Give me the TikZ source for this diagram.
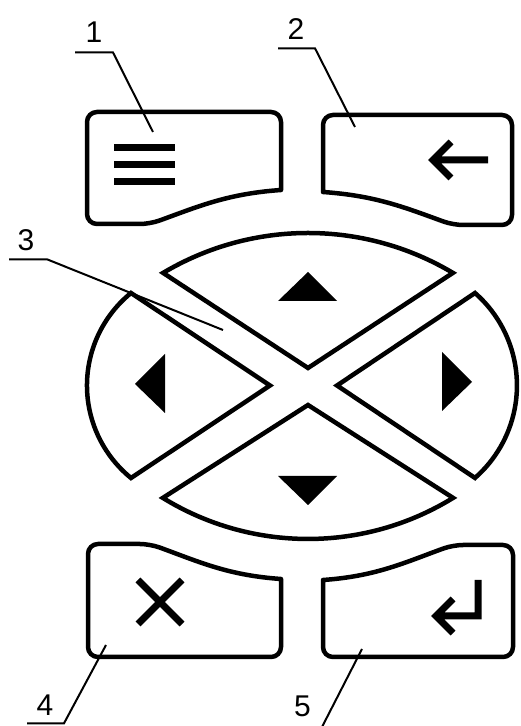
\documentclass[tikz,border=0pt]{standalone}
\usepackage{fontspec}
\setmainfont{Liberation Sans}

\begin{document}
\begin{tikzpicture}[x=1pt,y=1pt,
  keyline/.style={line width=4.5pt,rounded corners=10pt,line cap=round},
  wedge/.style={line width=4.5pt},
  leader/.style={line width=2pt},
  glyph/.style={line width=7pt},
  lbl/.style={inner sep=0pt,font=\fontsize{30}{32}\selectfont}]
\useasboundingbox (0,0) rectangle (520,726);
% keys
\draw[keyline] (281,536) to[out=184,in=20] (150,502) -- (87,502) -- (87,614) -- (281,614) -- (281,536);
\draw[keyline] (323,534) to[out=-4,in=160] (453,501) -- (512,501) -- (512,611) -- (323,611) -- (323,534);
\draw[keyline] (281,147) to[out=176,in=-20] (150,182) -- (88,182) -- (88,69) -- (281,69) -- (281,147);
\draw[keyline] (323,146) to[out=4,in=200] (453,181) -- (513,181) -- (513,69) -- (323,69) -- (323,146);
% cross pad
\draw[wedge] (308,358) -- (163.1,453.1) arc[start angle=120.8,end angle=59.2,radius=283] -- cycle;
\draw[wedge] (308,321) -- (453.1,228.1) arc[start angle=-58.4,end angle=-121.6,radius=277] -- cycle;
\draw[wedge] (270,340.5) -- (131,433) arc[start angle=129.1,end angle=230.9,radius=119.2] -- cycle;
\draw[wedge] (337,340.5) -- (475,433) arc[start angle=48.8,end angle=-48.8,radius=122.9] -- cycle;
\fill (278,425) -- (337,425) -- (308,454) -- cycle;
\fill (278,250) -- (337,250) -- (308,221) -- cycle;
\fill (135,342) -- (165,372) -- (165,313) -- cycle;
\fill (472,344) -- (442,374) -- (442,315) -- cycle;
% symbols
\draw[glyph] (114,578) -- (175,578) (114,561) -- (175,561) (114,544) -- (175,544);
\draw[glyph] (451,584) -- (433,566) -- (451,548) (433,566) -- (488,566);
\draw[glyph] (138,146) -- (182,102) (138,102) -- (182,146);
\draw[glyph] (478,146) -- (478,110) -- (437,110) (453,127) -- (436,110) -- (453,93);
% labels
\node[lbl] (n1) at (94,693.5) {1};
\node[lbl] (n2) at (296,697) {2};
\node[lbl] (n3) at (26,486) {3};
\node[lbl] (n4) at (45,20.5) {4};
\node[lbl] (n5) at (302.5,20) {5};
\coordinate (a1) at (75,673.5); \coordinate (b1) at (113,673.5); \coordinate (c1) at (153,594);
\coordinate (a2) at (278,677.7); \coordinate (b2) at (315,677.7); \coordinate (c2) at (355,599);
\coordinate (a3) at (9,466.7); \coordinate (b3) at (47,466.7); \coordinate (c3) at (223,396);
\coordinate (a4) at (27,2.7); \coordinate (b4) at (64,2.7); \coordinate (c4) at (106,81);
\coordinate (a5) at (285,-1); \coordinate (b5) at (322,-1); \coordinate (c5) at (362,77);
\draw[leader] (a1) -- (b1) -- (c1);
\draw[leader] (a2) -- (b2) -- (c2);
\draw[leader] (a3) -- (b3) -- (c3);
\draw[leader] (a4) -- (b4) -- (c4);
\draw[leader] (a5) -- (b5) -- (c5);
\end{tikzpicture}
\end{document}
